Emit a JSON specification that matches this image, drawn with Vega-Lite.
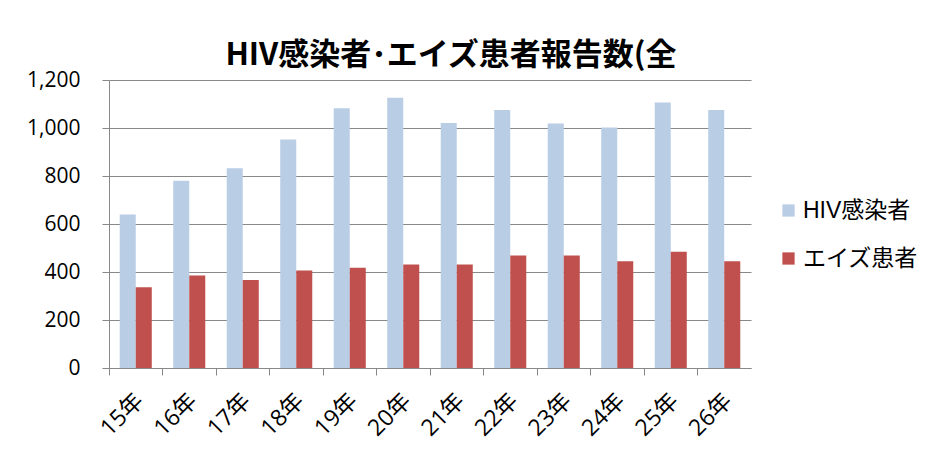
{
  "$schema": "https://vega.github.io/schema/vega-lite/v6.json",
  "width": 642,
  "height": 288,
  "autosize": {"type": "none"},
  "padding": {"left": 109, "top": 80, "right": 190, "bottom": 89},
  "background": "white",
  "title": {
    "text": "HIV感染者･エイズ患者報告数(全",
    "font": "Noto Sans CJK JP",
    "fontSize": 31,
    "fontWeight": "bold",
    "color": "black",
    "anchor": "middle",
    "dx": 21,
    "offset": -3
  },
  "data": {
    "values": [
      {"year": "15年", "series": "HIV感染者", "value": 640},
      {"year": "16年", "series": "HIV感染者", "value": 780},
      {"year": "17年", "series": "HIV感染者", "value": 832},
      {"year": "18年", "series": "HIV感染者", "value": 952},
      {"year": "19年", "series": "HIV感染者", "value": 1082},
      {"year": "20年", "series": "HIV感染者", "value": 1126},
      {"year": "21年", "series": "HIV感染者", "value": 1021},
      {"year": "22年", "series": "HIV感染者", "value": 1075},
      {"year": "23年", "series": "HIV感染者", "value": 1019},
      {"year": "24年", "series": "HIV感染者", "value": 1002},
      {"year": "25年", "series": "HIV感染者", "value": 1106},
      {"year": "26年", "series": "HIV感染者", "value": 1075},
      {"year": "15年", "series": "エイズ患者", "value": 336},
      {"year": "16年", "series": "エイズ患者", "value": 385},
      {"year": "17年", "series": "エイズ患者", "value": 367},
      {"year": "18年", "series": "エイズ患者", "value": 406},
      {"year": "19年", "series": "エイズ患者", "value": 418},
      {"year": "20年", "series": "エイズ患者", "value": 431},
      {"year": "21年", "series": "エイズ患者", "value": 431},
      {"year": "22年", "series": "エイズ患者", "value": 469},
      {"year": "23年", "series": "エイズ患者", "value": 469},
      {"year": "24年", "series": "エイズ患者", "value": 445},
      {"year": "25年", "series": "エイズ患者", "value": 484},
      {"year": "26年", "series": "エイズ患者", "value": 445}
    ]
  },
  "mark": {"type": "bar"},
  "encoding": {
    "x": {
      "field": "year",
      "type": "nominal",
      "sort": null,
      "title": null,
      "scale": {"paddingInner": 0, "paddingOuter": 0},
      "axis": {
        "bandPosition": 0,
        "labelOffset": 4,
        "labelAngle": -45,
        "labelAlign": "right",
        "labelBaseline": "middle",
        "labelFont": "Open Sans, Noto Sans CJK JP",
        "labelFontSize": 23,
        "labelColor": "black",
        "labelPadding": 22,
        "tickSize": 7,
        "tickColor": "#888888",
        "domainColor": "#888888",
        "grid": false
      }
    },
    "xOffset": {
      "field": "series",
      "type": "nominal",
      "sort": ["HIV感染者", "エイズ患者"],
      "scale": {"paddingInner": 0, "paddingOuter": 0.67}
    },
    "y": {
      "field": "value",
      "type": "quantitative",
      "title": null,
      "scale": {"domain": [0, 1200]},
      "axis": {
        "values": [0, 200, 400, 600, 800, 1000, 1200],
        "format": ",d",
        "labelFont": "Open Sans",
        "labelFontSize": 21,
        "labelColor": "black",
        "labelPadding": 22,
        "tickSize": 7,
        "tickColor": "#888888",
        "domainColor": "#888888",
        "gridColor": "#888888",
        "gridWidth": 1.2
      }
    },
    "color": {
      "field": "series",
      "type": "nominal",
      "title": null,
      "scale": {"domain": ["HIV感染者", "エイズ患者"], "range": ["#B9CDE5", "#C0504D"]},
      "legend": {
        "orient": "none",
        "legendX": 668,
        "legendY": 119,
        "symbolType": "square",
        "symbolSize": 150,
        "symbolStrokeWidth": 0,
        "symbolOpacity": 1,
        "labelFont": "Liberation Sans, Noto Sans CJK JP",
        "labelFontSize": 23,
        "labelColor": "black",
        "rowPadding": 24,
        "labelOffset": 3
      }
    }
  },
  "config": {"view": {"stroke": null}}
}
